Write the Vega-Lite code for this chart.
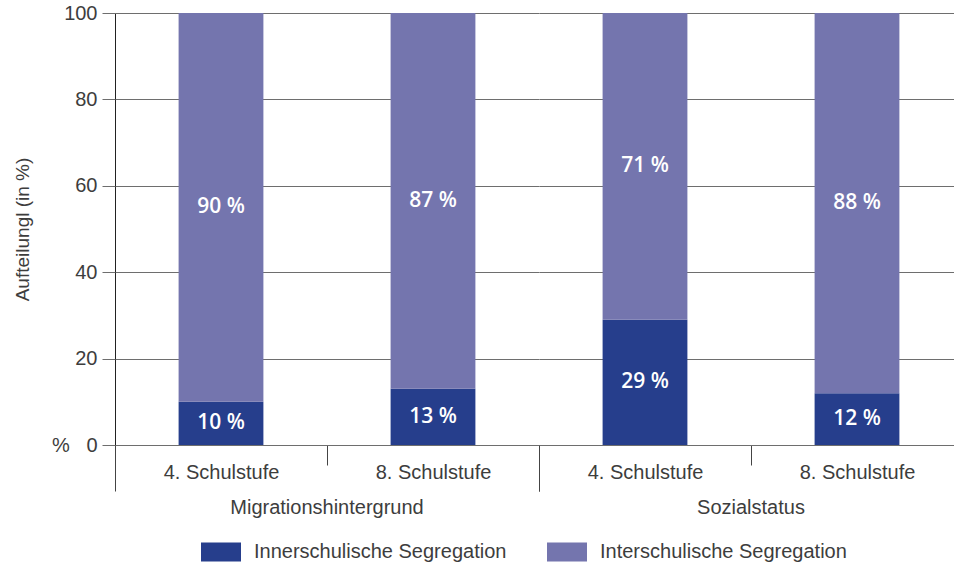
{
  "$schema": "https://vega.github.io/schema/vega-lite/v6.json",
  "autosize": {"type": "pad"},
  "padding": {"left": 13, "top": 3, "right": 0, "bottom": 0},
  "data": {
    "values": [
      {"group": "Migrationshintergrund", "stufe": "4. Schulstufe", "type": "Innerschulische Segregation", "value": 10, "label": "10 %"},
      {"group": "Migrationshintergrund", "stufe": "4. Schulstufe", "type": "Interschulische Segregation", "value": 90, "label": "90 %"},
      {"group": "Migrationshintergrund", "stufe": "8. Schulstufe", "type": "Innerschulische Segregation", "value": 13, "label": "13 %"},
      {"group": "Migrationshintergrund", "stufe": "8. Schulstufe", "type": "Interschulische Segregation", "value": 87, "label": "87 %"},
      {"group": "Sozialstatus", "stufe": "4. Schulstufe", "type": "Innerschulische Segregation", "value": 29, "label": "29 %"},
      {"group": "Sozialstatus", "stufe": "4. Schulstufe", "type": "Interschulische Segregation", "value": 71, "label": "71 %"},
      {"group": "Sozialstatus", "stufe": "8. Schulstufe", "type": "Innerschulische Segregation", "value": 12, "label": "12 %"},
      {"group": "Sozialstatus", "stufe": "8. Schulstufe", "type": "Interschulische Segregation", "value": 88, "label": "88 %"}
    ]
  },
  "facet": {
    "column": {
      "field": "group",
      "type": "nominal",
      "title": null,
      "sort": ["Migrationshintergrund", "Sozialstatus"],
      "header": {
        "labelOrient": "bottom",
        "labelFontSize": 20,
        "labelFont": "Liberation Sans",
        "labelColor": "#3d3d3d",
        "labelPadding": 6
      }
    }
  },
  "spacing": 0,
  "spec": {
    "width": 424,
    "height": 432,
    "encoding": {
      "x": {
        "field": "stufe",
        "type": "nominal",
        "title": null,
        "sort": ["4. Schulstufe", "8. Schulstufe"],
        "scale": {"paddingInner": 0, "paddingOuter": 0},
        "axis": {
          "tickBand": "extent",
          "tickSize": {"condition": {"test": "datum.value === '4. Schulstufe'", "value": 20}, "value": 46},
          "labelPadding": {"condition": {"test": "datum.value === '4. Schulstufe'", "value": -3}, "value": -29},
          "tickColor": "#444444",
          "domainColor": "#333333",
          "labelAngle": 0,
          "labelFontSize": 20,
          "grid": false
        }
      }
    },
    "layer": [
      {
        "mark": {"type": "bar", "width": {"band": 0.4}},
        "encoding": {
          "y": {
            "field": "value",
            "type": "quantitative",
            "stack": "zero",
            "title": "Aufteilungl (in %)",
            "scale": {"domain": [0, 100]},
            "axis": {
              "values": [0, 20, 40, 60, 80, 100],
              "tickSize": 13,
              "tickColor": "#6e6e6e",
              "gridColor": "#6e6e6e",
              "domainColor": "#222222",
              "labelPadding": 5,
              "labelFontSize": 20,
              "labelExpr": "datum.value === 0 ? '%\u00a0\u00a0\u00a00' : datum.label",
              "titleFontSize": 19,
              "titleFontWeight": "normal",
              "titlePadding": 19
            }
          },
          "order": {"field": "type", "sort": "ascending"},
          "color": {
            "field": "type",
            "type": "nominal",
            "scale": {"domain": ["Innerschulische Segregation", "Interschulische Segregation"], "range": ["#263e8c", "#7475ae"]},
            "legend": {
              "orient": "none",
              "legendX": 86,
              "legendY": 519,
              "direction": "horizontal",
              "title": null,
              "symbolType": "M-1,-0.475L1,-0.475L1,0.475L-1,0.475Z",
              "symbolSize": 1600,
              "symbolStrokeWidth": 0,
              "symbolOpacity": 1,
              "labelFontSize": 20,
              "labelLimit": 400,
              "labelOffset": 13,
              "columnPadding": 40
            }
          }
        }
      },
      {
        "mark": {"type": "text", "color": "white", "font": "Open Sans", "fontWeight": 600, "fontSize": 21, "baseline": "middle"},
        "encoding": {
          "y": {"field": "value", "type": "quantitative", "stack": "zero", "bandPosition": 0.5},
          "order": {"field": "type", "sort": "ascending"},
          "detail": {"field": "type"},
          "text": {"field": "label"}
        }
      }
    ]
  },
  "config": {
    "font": "Liberation Sans",
    "view": {"stroke": null},
    "axis": {"labelColor": "#3d3d3d", "titleColor": "#3d3d3d", "labelFont": "Liberation Sans", "titleFont": "Liberation Sans"},
    "legend": {"labelColor": "#3d3d3d", "labelFont": "Liberation Sans"}
  }
}
